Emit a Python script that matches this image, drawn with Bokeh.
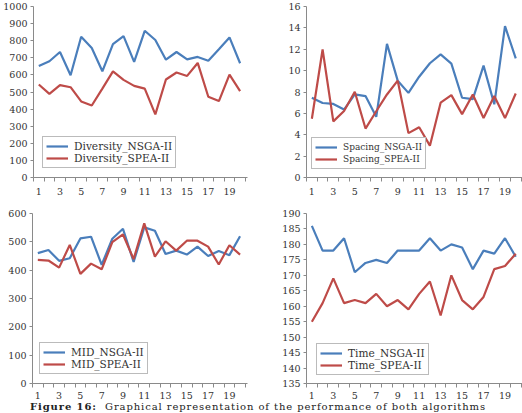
from bokeh.plotting import figure
from bokeh.layouts import row, column
from bokeh.models import FixedTicker, Legend, LegendItem, Div
from bokeh.embed import file_html
from bokeh.resources import INLINE

# Runs 1..20
runs = list(range(1, 21))

diversity_nsga = [652, 680, 734, 598, 823, 757, 621, 780, 827, 676,
                  858, 804, 689, 734, 691, 705, 683, 750, 819, 668]
diversity_spea = [544, 489, 540, 528, 445, 421, 520, 621, 571, 536,
                  520, 369, 573, 614, 594, 670, 472, 447, 602, 505]

spacing_nsga = [7.46, 6.97, 6.88, 6.36, 7.77, 7.62, 5.68, 12.5, 9.06, 7.92,
                9.43, 10.69, 11.52, 10.66, 7.46, 7.34, 10.47, 6.85, 14.16, 11.15]
spacing_spea = [5.5, 11.98, 5.25, 6.23, 8.02, 4.58, 6.2, 7.77, 9.06, 4.15,
                4.7, 2.98, 7.0, 7.71, 5.93, 7.77, 5.56, 7.62, 5.56, 7.86]

mid_nsga = [460, 471, 433, 442, 512, 518, 419, 511, 546, 429,
            551, 539, 457, 469, 455, 483, 450, 468, 453, 520]
mid_spea = [436, 434, 409, 489, 387, 423, 403, 499, 526, 439,
            565, 448, 502, 469, 504, 504, 483, 420, 488, 455]

time_nsga = [186, 178, 178, 182, 171, 174, 175, 174, 178, 178,
             178, 182, 178, 180, 179, 172, 178, 177, 182, 176]
time_spea = [155, 161, 169, 161, 162, 161, 164, 160, 162, 159,
             164, 168, 157, 170, 162, 159, 163, 172, 173, 177]

x_labels = [1, 3, 5, 7, 9, 11, 13, 15, 17, 19]
x_bounds = [i + 0.5 for i in range(0, 21)]

BLUE = "#4A7EBB"
RED = "#BE4B48"
AXIS = "#8a8a8a"
FONT = "DejaVu Serif"


def panel(width, height, borders, y_range, y_ticks, x_end,
          blue, red, labels, legend_xy, legend_size, x_standoff=6):
    left, right, top, bottom = borders
    p = figure(width=width, height=height, x_range=(0.5, x_end), y_range=y_range,
               output_backend="svg", toolbar_location=None,
               min_border_left=left, min_border_right=right,
               min_border_top=top, min_border_bottom=bottom)
    p.outline_line_color = None
    p.grid.visible = False
    p.background_fill_color = "white"
    p.border_fill_color = "white"

    r1 = p.line(runs, blue, line_color=BLUE, line_width=2.2)
    r2 = p.line(runs, red, line_color=RED, line_width=2.2)

    xa = p.xaxis[0]
    xa.ticker = FixedTicker(ticks=x_labels, minor_ticks=x_bounds)
    xa.major_tick_out = 0
    xa.major_tick_in = 0
    xa.minor_tick_out = 4
    xa.minor_tick_in = 0
    xa.major_label_standoff = x_standoff

    ya = p.yaxis[0]
    ya.ticker = FixedTicker(ticks=y_ticks)
    ya.major_tick_out = 3
    ya.major_tick_in = 0
    ya.minor_tick_out = 0
    ya.minor_tick_in = 0
    ya.major_label_standoff = 3

    for ax in (xa, ya):
        ax.axis_line_color = AXIS
        ax.major_tick_line_color = AXIS
        ax.minor_tick_line_color = AXIS
        ax.major_label_text_font = FONT
        ax.major_label_text_font_size = "9.5px"
        ax.major_label_text_color = "#333333"

    legend = Legend(items=[LegendItem(label=labels[0], renderers=[r1]),
                           LegendItem(label=labels[1], renderers=[r2])],
                    location=legend_xy)
    legend.border_line_color = "#777777"
    legend.border_line_width = 1
    legend.padding = 3
    legend.spacing = 0
    legend.margin = 0
    legend.glyph_width = 22
    legend.glyph_height = 12
    legend.label_height = 12
    legend.label_standoff = 6
    legend.label_text_font = FONT
    legend.label_text_font_size = legend_size
    legend.label_text_color = "#333333"
    legend.background_fill_alpha = 1
    p.add_layout(legend)
    return p


p1 = panel(261, 200, (33, 14, 6, 23), (0, 1000), list(range(0, 1001, 100)), 20.7,
           diversity_nsga, diversity_spea, ("Diversity_NSGA-II", "Diversity_SPEA-II"),
           (9, 9), "10.6px")
p2 = panel(261, 200, (45, 0, 4, 22), (0, 16), list(range(0, 17, 2)), 20.63,
           spacing_nsga, spacing_spea, ("Spacing_NSGA-II", "Spacing_SPEA-II"),
           (5, 8), "9px")
p3 = panel(261, 201, (32, 14, 13, 16), (0, 600), list(range(0, 601, 100)), 20.7,
           mid_nsga, mid_spea, ("MID_NSGA-II", "MID_SPEA-II"),
           (7, 9), "10.5px", x_standoff=4)
p4 = panel(261, 201, (45, 0, 13, 16), (135, 190), list(range(135, 191, 5)), 20.63,
           time_nsga, time_spea, ("Time_NSGA-II", "Time_SPEA-II"),
           (10, 8), "10.6px", x_standoff=4)

caption = Div(text="<b>Figure 16:</b>&nbsp; Graphical representation of the performance of both algorithms",
              width=522, height=12, margin=(0, 0, 0, 0),
              styles={"font-family": FONT, "font-size": "10px",
                      "padding-left": "30px", "line-height": "12px", "letter-spacing": "0.9px",
                      "color": "#222222", "white-space": "nowrap", "box-sizing": "border-box"})

layout = column(row(p1, p2, spacing=0), row(p3, p4, spacing=0), caption, spacing=0)

open("out.html", "w").write(file_html(layout, INLINE))
